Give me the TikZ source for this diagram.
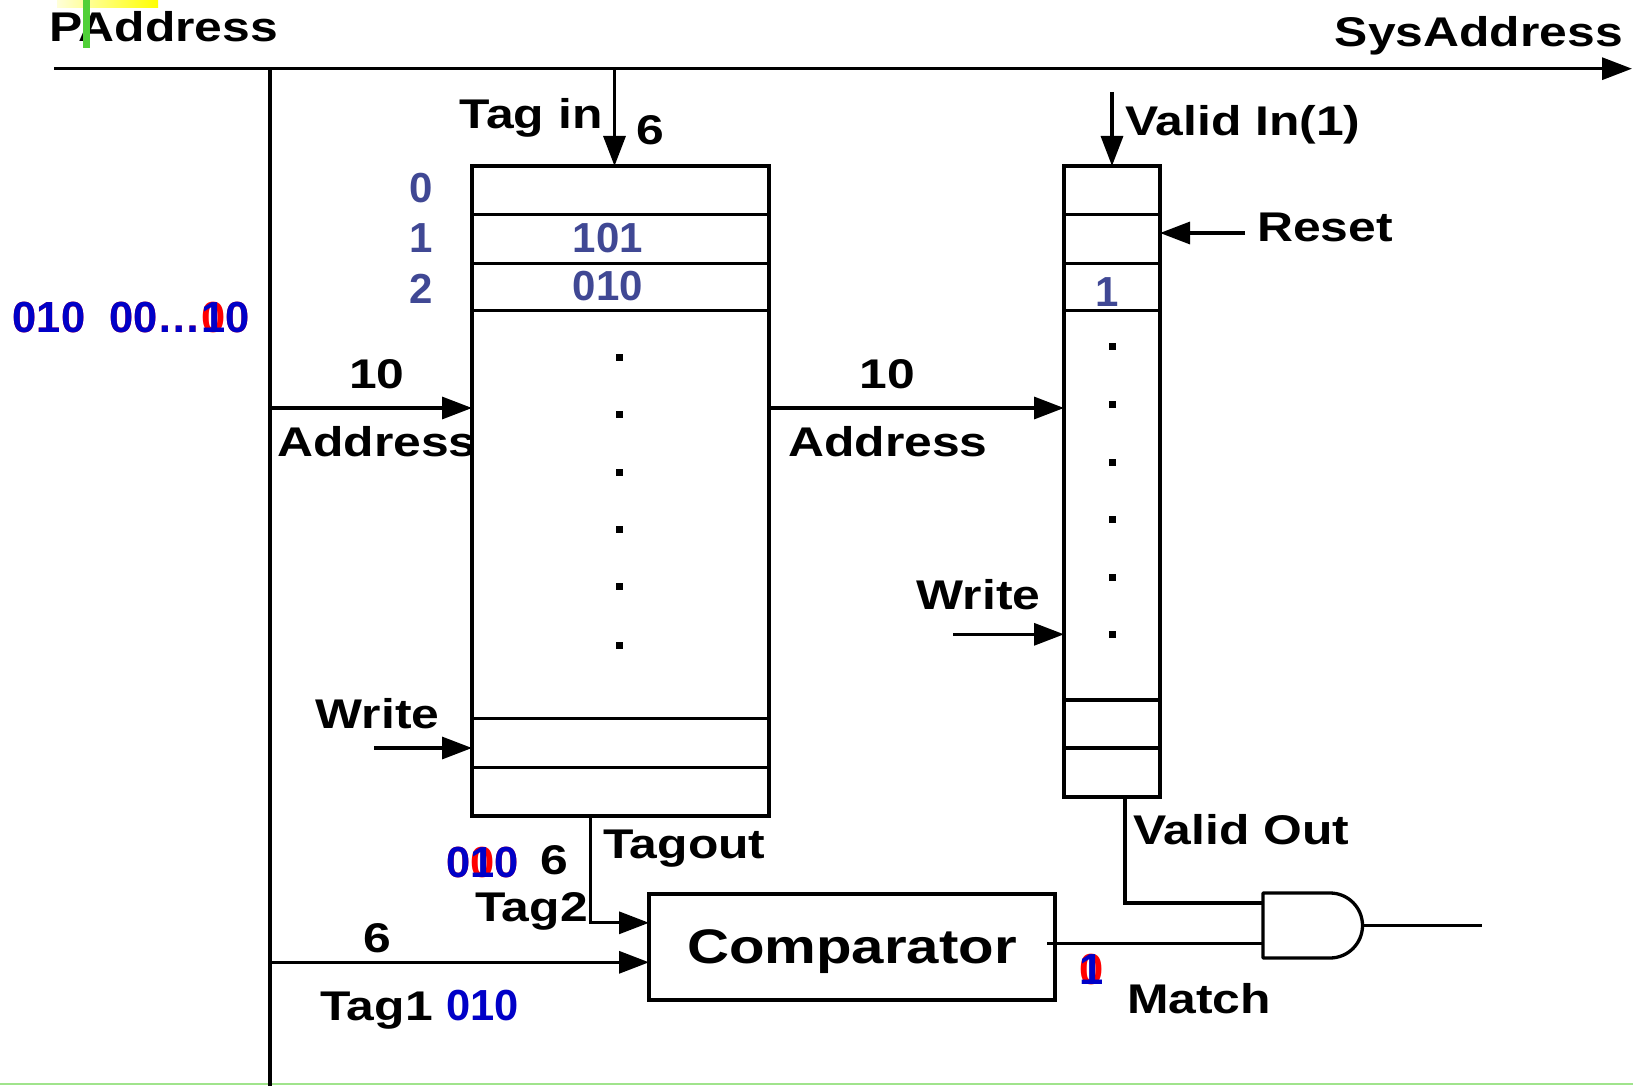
\documentclass[tikz,border=0pt]{standalone}
\usepackage{fontspec}
\setmainfont{Liberation Sans}
\newfontfamily\wide{Liberation Sans}[FakeStretch=1.2]
\usetikzlibrary{arrows.meta}
\definecolor{slate}{RGB}{64,72,148}
\definecolor{dblue}{RGB}{0,0,200}
\definecolor{gbar}{RGB}{80,208,56}
\definecolor{gline}{RGB}{160,228,140}
\begin{document}
\begin{tikzpicture}[x=1pt,y=-1pt,
  wire/.style={line width=3.3pt},
  arr/.style={wire,-{Triangle[length=30pt,width=22pt]}},
  box/.style={draw,line width=3.6pt,inner sep=0,outer sep=0,anchor=north west},
  lbl/.style={font=\wide\bfseries\fontsize{41.5}{45}\selectfont,inner sep=0,anchor=base},
  num/.style={font=\bfseries\fontsize{42}{45}\selectfont,inner sep=0,anchor=base},
  bnum/.style={font=\bfseries\fontsize{43.5}{47}\selectfont,inner sep=0,anchor=base west},
  dot/.style={fill=black,minimum size=7pt,inner sep=0,draw=none}]
\useasboundingbox (0,0) rectangle (1633,1086);
% highlights
\shade[left color=yellow!15,right color=yellow] (57,0) rectangle (158,8);
\draw[gline,line width=2pt] (0,1084) -- (1633,1084);
% coordinates
\coordinate (tl) at (54,68.7);
\coordinate (tr) at (1632,68.7);
\coordinate (bt) at (270,68.7);
\coordinate (bb) at (270,1086);
\coordinate (tagin) at (614.5,68.7);
\coordinate (vin) at (1112,92);
\coordinate (rst) at (1245,233);
\coordinate (b408) at (270,408);
\coordinate (wl) at (374,748);
\coordinate (wr) at (953,634.3);
\coordinate (tox) at (590.5,922.8);
\coordinate (t1) at (270,962.3);
\coordinate (m0) at (1047,943.6);
\coordinate (gA) at (1263,903);
\coordinate (gB) at (1263,943.6);
\coordinate (gO) at (1362,925.5);
\coordinate (vo) at (1125,903);
\coordinate (out) at (1482,925.5);
% boxes
\node[box,minimum width=297pt,minimum height=650pt] (tag) at (472,166) {};
\node[box,minimum width=96pt,minimum height=631pt] (valid) at (1064,166) {};
\node[box,minimum width=406pt,minimum height=106pt] (comp) at (649,894) {};
\node[font=\wide\bfseries\fontsize{48.5}{52}\selectfont,inner sep=0,anchor=base] (comptext) at (852,963) {Comparator};
\foreach \y in {214.5,263.5,310.4,718.6,767.6} \draw[line width=3.6pt] (472,\y) -- (769,\y);
\foreach \y in {214.5,263.5,310.4,700,748} \draw[line width=3.6pt] (1064,\y) -- (1160,\y);
\foreach \y [count=\i] in {357,414.5,472,529,586,645} \node[dot] (td\i) at (619.7,\y) {};
\foreach \y [count=\i] in {346.8,404,462.4,519.7,577,634.3} \node[dot] (vd\i) at (1112.3,\y) {};
% AND gate
\draw[wire,line join=round] (1263,893) -- (1330,893) arc[start angle=90,end angle=-90,radius=32.5pt] -- (1263,958) -- cycle;
% wires
\draw[arr] (tl) -- (tr);
\draw[wire] (bt) -- (bb);
\draw[arr] (tagin) -- (tagin |- tag.north);
\draw[arr] (vin) -- (vin |- valid.north);
\draw[arr] (rst) -- (rst -| valid.east);
\draw[arr] (b408) -- (b408 -| tag.west);
\draw[arr] (tag.east |- b408) -- (valid.west |- b408);
\draw[arr] (wl) -- (wl -| tag.west);
\draw[arr] (wr) -- (wr -| valid.west);
\draw[arr] (tox |- tag.south) |- (comp.west |- tox);
\draw[arr] (t1) -- (t1 -| comp.west);
\draw[wire] (m0) -- (gB);
\draw[wire] (vo |- valid.south) |- (gA);
\draw[wire] (gO) -- (out);
% labels
\node[lbl,anchor=base west] (pa) at (49,41.6) {PAddress};
\fill[gbar] (83,0) rectangle (90,48);
\node[lbl,anchor=base east] (sa) at (1623,47) {SysAddress};
\node[lbl] (tagin-l) at (531,129) {Tag in};
\node[lbl] (six1) at (650,145) {6};
\node[num,text=slate] (i0) at (421,202.5) {0};
\node[num,text=slate] (i1) at (421,252.5) {1};
\node[num,text=slate] (i2) at (421,303.5) {2};
\node[num,text=slate] (v101) at (608,252.5) {101};
\node[num,text=slate] (v010) at (608,300.4) {010};
\node[bnum,text=red] (pr) at (12.5,332.7) {010\ \ 00\dots00};
\node[bnum,text=dblue] (pb) at (12.5,332.7) {010\ \ 00\dots10};
\node[lbl] (ten1) at (377,388) {10};
\node[lbl,anchor=base west] (addr1) at (277,456.6) {Address};
\node[lbl,anchor=base west] (wr1) at (315.6,728) {Write};
\node[lbl,anchor=base west] (tagout) at (603,858.6) {Tagout};
\node[lbl] (six2) at (554,874) {6};
\node[bnum,text=red] (t2r) at (446,877) {000};
\node[bnum,text=dblue] (t2b) at (446,877) {010};
\node[lbl,anchor=base west] (tag2) at (475,921) {Tag2};
\node[lbl] (six3) at (377,952) {6};
\node[lbl,anchor=base west] (tag1) at (320,1020) {Tag1};
\node[bnum,text=dblue] (t1b) at (446,1020) {010};
\node[bnum,text=red,anchor=base] (mr) at (1091.5,984.6) {0};
\node[bnum,text=dblue,anchor=base] (mb) at (1091.5,984.6) {1};
\node[lbl,anchor=base west] (match) at (1127,1013) {Match};
\node[lbl,anchor=base west] (vout) at (1133,844) {Valid Out};
\node[lbl,anchor=base west] (vinl) at (1125,136) {Valid In(1)};
\node[lbl,anchor=base west] (reset) at (1257,242) {Reset};
\node[num,text=slate] (v1) at (1107,306.6) {1};
\node[lbl] (ten2) at (887,388) {10};
\node[lbl,anchor=base west] (addr2) at (788,456.6) {Address};
\node[lbl,anchor=base west] (wr2) at (916.5,609.7) {Write};
\end{tikzpicture}
\end{document}
